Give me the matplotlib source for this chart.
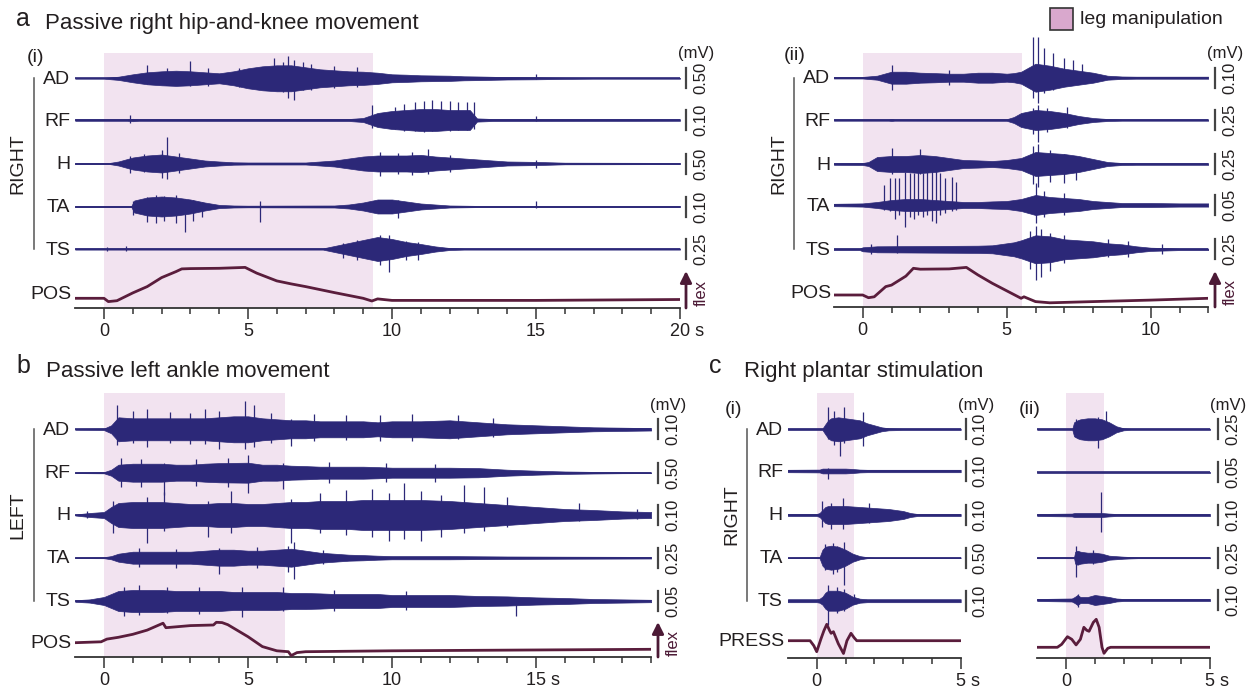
import matplotlib
matplotlib.use("Agg")
import matplotlib.pyplot as plt
import matplotlib.transforms as mtransforms
from matplotlib.patches import Rectangle
import numpy as np

W, H = 1253, 691
plt.rcParams["font.family"] = ["Liberation Sans", "DejaVu Sans"]

EMG = "#2c2878"
POSC = "#5a1d3c"
FLEX = "#4c1a36"
SHADE = "#f2e3f0"
TXT = "#231f20"
AXC = "#333333"

CHANNELS = ["AD", "RF", "H", "TA", "TS"]

# EMG envelopes: (time s, half-amplitude in units of the channel's scale bar)
# spikes: (time s, up, down) in the same units
# ---------------- a(i) passive right hip-and-knee, 20 s ----------------
A1_SCALE = ["0.50", "0.10", "0.50", "0.10", "0.25"]
A1_MANIP = (0.0, 9.33)
A1_AD = [(-1, .02), (0, .02), (0.5, .08), (1, .2), (1.5, .3), (2, .35), (2.5, .38), (3, .35),
         (3.5, .3), (4, .25), (4.5, .35), (5, .5), (5.5, .6), (6, .65), (6.5, .65), (7, .55),
         (7.5, .45), (8, .4), (8.5, .35), (9, .33), (9.5, .28), (10, .2), (10.5, .18), (11, .15),
         (12, .13), (12.5, .1), (13, .09), (14, .06), (15, .05), (16, .03), (17, .02), (20, .02)]
A1_AD_SP = [(1.5, .65, .3), (2.2, .5, .35), (3.0, .85, .4), (3.6, .5, .4), (4.7, .5, .45),
            (5.9, 1.0, .5), (6.2, .8, .7), (6.4, 1.1, 1.0), (6.6, .9, 1.1), (6.9, .8, .6),
            (7.2, .7, .6), (8.0, .6, .5), (8.8, .55, .45), (15.0, .2, .05)]
A1_RF = [(-1, .04), (0.8, .04), (1, .06), (1.2, .04), (8.5, .05), (9, .1), (9.5, .35), (10, .45),
         (10.5, .5), (11, .55), (11.5, .55), (12, .5), (12.7, .5), (12.95, .08), (13.5, .05), (20, .04)]
A1_RF_SP = [(0.9, .25, .15), (9.3, .75, .4), (10.1, .65, .45), (10.4, .8, .55), (10.8, .9, .55),
            (11.1, .95, .6), (11.4, 1.0, .55), (11.7, .95, .5), (12.0, .95, .55), (12.3, .9, .5),
            (12.6, .9, .5), (12.85, .9, .45), (15.0, .2, .05)]
A1_H = [(-1, .03), (0.2, .03), (0.5, .1), (1, .3), (1.5, .4), (2, .45), (2.5, .35), (3, .25),
        (3.5, .15), (4, .1), (4.5, .06), (5, .05), (7, .05), (7.5, .1), (8, .15), (8.5, .25),
        (9, .35), (9.5, .4), (10.5, .4), (11, .43), (11.5, .35), (12, .3), (12.5, .25), (13, .2),
        (13.5, .15), (14, .1), (15, .08), (16, .04), (20, .03)]
A1_H_SP = [(0.9, .4, .45), (1.4, .5, .4), (2.0, .7, .7), (2.2, 1.35, .75), (2.6, .55, .45),
           (9.6, .6, .6), (10.2, .55, .5), (10.7, .6, .55), (11.25, .75, .5), (12.0, .45, .4),
           (15.0, .2, .2)]
A1_TA = [(-1, .03), (0.95, .03), (1.05, .3), (1.5, .45), (2, .5), (2.5, .45), (3, .35), (3.5, .2),
         (4, .08), (4.5, .05), (5, .04), (8, .05), (8.5, .1), (9, .2), (9.5, .35), (10, .35),
         (10.5, .25), (11, .15), (11.5, .1), (12, .05), (13, .03), (20, .03)]
A1_TA_SP = [(1.0, .3, .4), (1.5, .5, .75), (1.8, .6, .8), (2.1, .55, .7), (2.5, .6, .8),
            (2.8, .4, 1.25), (3.1, .35, .7), (3.4, .25, .5), (5.4, .3, .75), (10.2, .35, .55),
            (15.0, .3, .05)]
A1_TS = [(-1, .03), (7.6, .03), (8, .15), (8.5, .3), (9, .45), (9.5, .6), (10, .5), (10.5, .35),
         (11, .25), (11.5, .13), (12, .05), (12.5, .03), (20, .03)]
A1_TS_SP = [(0.1, .1, .1), (0.75, .15, .1), (8.3, .3, .45), (8.8, .45, .55), (9.6, .7, .8),
            (9.9, .7, 1.15), (10.5, .4, .55), (10.9, .35, .55)]
A1_POS = [(-1, 0), (0, 0), (0.15, -.11), (0.45, -.08), (1, .18), (1.5, .39), (2, .69), (2.5, .89),
          (2.7, .98), (3, .99), (4, 1.0), (4.9, 1.03), (5.3, .84), (6, .58), (6.5, .48), (7, .39),
          (8, .19), (9, 0), (9.3, -.09), (9.5, -.02), (10, -.07), (15, -.07), (20, -.04)]

# ---------------- a(ii) ----------------
A2_SCALE = ["0.10", "0.25", "0.25", "0.05", "0.25"]
A2_MANIP = (0.0, 5.53)
A2_AD = [(-1, .04), (0, .04), (0.5, .1), (1, .3), (1.5, .3), (2, .25), (2.5, .23), (3, .2),
         (3.5, .2), (4, .25), (4.5, .25), (5, .2), (5.25, .23), (5.5, .3), (6, .7), (6.5, .6),
         (7, .45), (7.5, .35), (8, .25), (8.5, .1), (9, .06), (9.5, .05), (12, .05)]
A2_AD_SP = [(1.0, .65, .6), (3.0, .4, .35), (5.9, 2.05, 1.0), (6.1, 2.05, 1.25), (6.3, 1.5, .75),
            (6.6, 1.25, .6), (7.0, 1.0, .4), (7.3, .9, .3), (7.6, .7, .25)]
A2_RF = [(-1, .035), (0.9, .035), (1.0, .05), (1.1, .035), (5, .04), (5.25, .15), (5.5, .35),
         (6, .5), (6.5, .45), (7, .35), (7.5, .2), (8, .1), (8.5, .05), (9, .035), (12, .035)]
A2_RF_SP = [(5.9, .6, .7), (6.1, .75, 1.1), (6.4, .6, .6), (7.1, .65, .4)]
A2_H = [(-1, .04), (0, .05), (0.2, .1), (0.5, .35), (1, .4), (1.5, .4), (2, .45), (2.5, .4),
        (3, .3), (3.5, .2), (4, .18), (4.5, .15), (5, .2), (5.25, .25), (5.5, .3), (6, .6),
        (6.5, .55), (7, .5), (7.5, .4), (8, .25), (8.5, .1), (9, .05), (9.5, .04), (12, .04)]
A2_H_SP = [(1.0, .8, .5), (2.0, .75, .5), (5.9, .9, 1.0), (6.1, 1.0, 1.15), (6.5, .7, .9),
           (7.0, .5, .95), (7.4, .4, .8)]
A2_TA = [(-1, .06), (0, .08), (0.5, .15), (1, .25), (1.5, .3), (2, .3), (2.5, .25), (3, .2),
         (3.5, .15), (4, .15), (4.5, .18), (5, .2), (5.25, .25), (5.5, .3), (6, .5), (6.5, .4),
         (7, .35), (7.5, .3), (8, .2), (8.5, .15), (9, .1), (10, .1), (11, .08), (12, .08)]
A2_TA_SP = [(0.74, 1.0, .25), (0.95, 1.35, .3), (1.12, 1.35, .7), (1.26, 1.35, .5),
            (1.46, 1.65, 1.1), (1.64, 1.6, .6), (1.78, 1.6, .7), (1.93, 1.65, .5), (2.08, 1.6, .6),
            (2.22, 1.65, .5), (2.39, 1.75, .8), (2.54, 1.75, .9), (2.68, 1.6, .5), (2.85, 1.35, .4),
            (3.09, 1.4, .3), (3.24, 1.15, .25), (6.0, 1.1, .9), (6.3, .7, .6), (7.0, .6, .5)]
A2_TS = [(-1, .04), (-0.1, .04), (0, .1), (0.5, .15), (4, .18), (4.5, .2), (5, .3), (5.25, .35),
         (5.5, .45), (6, .7), (6.5, .65), (7, .5), (7.5, .45), (8, .4), (8.5, .3), (9, .25),
         (9.5, .15), (10, .08), (11, .04), (12, .04)]
A2_TS_SP = [(0.3, .25, .25), (1.2, .7, .2), (5.8, .9, 1.0), (6.0, 1.15, 1.55), (6.2, 1.0, 1.4),
            (6.5, .8, 1.1), (7.0, .7, .7), (8.5, .5, .4), (9.2, .4, .4), (10.4, .25, .25)]
A2_POS = [(-1, 0), (0, 0), (0.2, -.09), (0.4, -.06), (0.8, .28), (1, .33), (1.5, .63), (1.76, .89),
          (2, .86), (3, .87), (3.6, .92), (4, .67), (4.5, .39), (5, .14), (5.5, -.11), (5.6, -.06),
          (6, -.22), (6.5, -.26), (8, -.22), (10, -.17), (12, -.11)]

# ---------------- b passive left ankle ----------------
B_SCALE = ["0.10", "0.50", "0.10", "0.25", "0.05"]
B_MANIP = (0.0, 6.28)
B_AD = [(-1, .025), (0, .04), (0.25, .2), (0.5, .6), (1, .55), (3.5, .55), (4, .6), (4.5, .65),
        (5, .65), (5.5, .55), (6, .5), (6.5, .45), (7, .45), (7.5, .4), (9, .4), (9.5, .35),
        (10, .4), (11, .4), (12, .45), (13, .35), (14, .25), (15, .2), (16, .15), (17, .1),
        (18, .08), (19, .06)]
B_AD_SP = [(0.45, 1.2, .8), (1.0, .9, .7), (1.5, 1.0, .9), (2.3, .85, .7), (3.0, .8, .75),
           (3.5, 1.0, .75), (4.0, .9, 1.0), (4.9, 1.4, 1.0), (5.2, 1.2, .9), (5.8, .8, .7),
           (6.5, .5, .85), (7.3, .75, .6), (8.4, .7, .55), (9.6, .7, .6), (10.7, .75, .6),
           (12.3, .7, .5), (13.5, .55, .4)]
B_RF = [(-1, .02), (0, .03), (0.25, .15), (0.5, .4), (1, .45), (2, .45), (2.5, .4), (3, .4),
        (3.5, .45), (4, .48), (5, .5), (5.5, .4), (6, .4), (6.5, .35), (7, .33), (7.5, .3), (9, .3),
        (9.5, .28), (10, .25), (12, .25), (13, .23), (14, .15), (15, .1), (16, .06), (17, .04),
        (18, .025), (19, .02)]
B_RF_SP = [(0.6, .75, .7), (1.3, .7, .7), (2.07, .5, 1.1), (3.2, .7, .65), (4.3, .75, .7),
           (5.0, .9, 1.0), (6.2, .5, .8), (7.8, .55, .5), (9.8, .5, .45), (11.5, .45, .45)]
B_H = [(-1, .025), (-0.5, .1), (0, .15), (0.25, .4), (0.5, .6), (1, .65), (2, .65), (2.5, .6),
       (3, .55), (3.5, .55), (4, .6), (4.5, .6), (5, .55), (5.5, .55), (6, .6), (6.5, .65), (7, .65),
       (7.5, .7), (8.5, .7), (9, .75), (11, .75), (12, .7), (13, .6), (14, .5), (15, .4), (16, .3),
       (17, .25), (18, .18), (19, .15)]
B_H_SP = [(-0.6, .2, .15), (0.3, .7, .9), (1.5, .9, 1.4), (2.1, 1.15, .8), (3.6, .7, 1.1),
          (4.4, 1.2, .9), (6.5, .8, 1.4), (7.5, 1.1, .9), (8.4, 1.25, 1.0), (9.3, 1.3, 1.1),
          (9.9, 1.1, 1.3), (10.4, 1.6, 1.2), (11.0, 1.2, 1.3), (11.7, 1.0, 1.1), (12.5, 1.5, .9),
          (13.2, 1.4, .8), (14.0, .9, .6), (16.5, .6, .3), (18.5, .3, .2)]
B_TA = [(-1, .02), (0, .025), (0.25, .08), (0.5, .2), (1, .3), (3, .3), (3.5, .35), (4, .4),
        (4.5, .4), (5, .35), (5.5, .35), (6, .4), (6.5, .45), (7, .35), (7.5, .25), (8, .2),
        (8.5, .15), (9, .13), (9.5, .1), (10, .08), (12, .08), (14, .06), (16, .05), (19, .04)]
B_TA_SP = [(1.2, .5, .45), (2.5, .45, .5), (4.0, .5, .8), (5.3, .55, .5), (6.4, .6, .7),
           (6.6, .8, 1.05), (7.6, .4, .3)]
B_TS = [(-1, .04), (-0.5, .08), (0, .2), (0.25, .35), (0.5, .5), (1, .55), (2, .55), (2.5, .5),
        (4, .5), (4.5, .45), (6, .45), (6.5, .4), (7, .4), (7.5, .38), (8, .35), (9.5, .35),
        (10, .3), (12, .3), (13, .25), (14, .23), (15, .18), (16, .15), (17, .1), (18, .08),
        (19, .06)]
B_TS_SP = [(0.7, .7, .75), (1.2, .8, .7), (2.2, .7, .6), (3.3, .7, .65), (4.8, .7, .8),
           (6.2, .7, .5), (8.0, .55, .5), (10.5, .5, .45), (14.3, .1, .75)]
B_POS = [(-1, 0), (-0.1, .03), (0.1, .12), (0.5, .18), (1, .28), (1.5, .42), (2.05, .65),
         (2.15, .5), (3, .57), (3.8, .59), (3.9, .68), (4.1, .67), (4.3, .6), (5, .2), (5.5, -.13),
         (6, -.27), (6.4, -.3), (6.5, -.43), (6.7, -.33), (7, -.3), (9, -.28), (10, -.27),
         (19, -.22)]

# ---------------- c(i) right plantar stimulation ----------------
C1_SCALE = ["0.10", "0.10", "0.10", "0.50", "0.10"]
C1_MANIP = (0.0, 1.31)
C1_AD = [(-1, .035), (0.2, .035), (0.3, .25), (0.4, .45), (0.5, .55), (0.75, .6), (1, .55),
         (1.25, .5), (1.5, .45), (1.75, .3), (2, .2), (2.25, .1), (2.5, .05), (3, .035), (5, .035)]
C1_AD_SP = [(0.4, 1.1, .5), (0.6, .9, .8), (0.8, .5, 1.35), (0.95, 1.1, .7), (1.6, .85, .85)]
C1_RF = [(-1, .06), (0.1, .07), (0.2, .12), (1, .12), (1.25, .1), (1.5, .07), (1.75, .06), (5, .06)]
C1_RF_SP = [(0.4, .15, .4)]
C1_H = [(-1, .05), (0, .05), (0.1, .1), (0.2, .25), (0.3, .4), (0.4, .45), (1, .45), (1.5, .4),
        (2, .35), (2.5, .3), (3, .2), (3.25, .1), (3.5, .05), (5, .05)]
C1_H_SP = [(0.2, .7, .6), (0.5, .6, .7), (0.9, .85, .7), (1.8, .6, .4)]
C1_TA = [(-1, .015), (0.1, .025), (0.2, .4), (0.3, .55), (0.5, .6), (0.75, .55), (1, .4),
         (1.25, .2), (1.5, .08), (1.75, .025), (2, .015), (5, .015)]
C1_TA_SP = [(0.3, .7, .6), (0.55, .75, .8), (0.7, .6, .7), (0.95, .8, 1.35)]
C1_TS = [(-1, .075), (0, .075), (0.1, .1), (0.2, .2), (0.3, .4), (0.4, .5), (0.75, .5), (1, .4),
         (1.25, .2), (1.5, .1), (1.75, .075), (5, .075)]
C1_TS_SP = [(0.4, .8, 1.2), (0.7, .7, .6), (0.95, .6, .5), (1.3, .35, .15)]
C1_PRESS = [(-1, 0), (-0.23, 0), (-0.1, -.25), (0, -.55), (0.15, .1), (0.25, .5), (0.35, .82),
            (0.45, .5), (0.5, .37), (0.58, .45), (0.75, -.15), (0.93, -.64), (1.05, 0),
            (1.19, .37), (1.3, .15), (1.39, 0), (5, 0)]

# ---------------- c(ii) ----------------
C2_SCALE = ["0.25", "0.05", "0.10", "0.25", "0.10"]
C2_MANIP = (0.0, 1.33)
C2_AD = [(-1, .03), (0.22, .03), (0.28, .35), (0.4, .45), (0.5, .5), (0.75, .55), (1, .55),
         (1.25, .5), (1.5, .35), (1.75, .15), (2, .05), (2.25, .03), (5, .03)]
C2_AD_SP = [(0.35, .5, .4), (1.1, .6, .95), (1.4, .9, .3)]
C2_RF = [(-1, .035), (5, .035)]
C2_RF_SP = []
C2_H = [(-1, .05), (0.2, .07), (0.3, .1), (1.25, .1), (1.5, .07), (1.75, .05), (5, .05)]
C2_H_SP = [(1.2, 1.15, .85)]
C2_TA = [(-1, .025), (0.28, .025), (0.32, .3), (0.4, .35), (0.5, .3), (0.75, .25), (1, .25),
         (1.25, .2), (1.5, .1), (1.75, .075), (2, .05), (2.25, .035), (2.5, .025), (5, .025)]
C2_TA_SP = [(0.33, .6, .95), (0.95, .4, .3)]
C2_TS = [(-1, .05), (0.2, .075), (0.3, .15), (0.4, .25), (0.5, .15), (0.75, .15), (1, .25),
         (1.25, .2), (1.5, .15), (1.75, .075), (2, .05), (5, .05)]
C2_TS_SP = [(0.4, .3, .35)]
C2_PRESS = [(-1, 0), (-0.3, 0), (-0.15, .15), (0.05, .53), (0.2, .4), (0.35, .12), (0.5, .4),
            (0.62, 1.0), (0.72, .85), (0.8, .8), (0.95, 1.25), (1.05, 1.4), (1.15, 1.0),
            (1.25, 0), (1.32, -.3), (1.45, -.05), (1.55, 0), (5, 0)]

BAR = 20.0  # scale-bar height (px)

fig = plt.figure(figsize=(W / 100, H / 100), dpi=100)


def panel(x0, t0, t1, ytop, ybot, pps=28.8):
    ax = fig.add_axes([(x0 + pps * t0) / W, 1 - ybot / H, pps * (t1 - t0) / W, (ybot - ytop) / H])
    ax.set_xlim(t0, t1)
    ax.set_ylim(-ybot, -ytop)
    ax.patch.set_visible(False)
    for s in ("top", "right", "left"):
        ax.spines[s].set_visible(False)
    ax.spines["bottom"].set_color(AXC)
    ax.spines["bottom"].set_linewidth(1.3)
    ax.set_yticks([])
    return ax


def xaxis(ax, majors, labels, t1):
    ax.set_xticks(majors)
    ax.set_xticklabels(labels)
    ax.set_xticks(np.arange(1, int(t1) + 1), minor=True)
    ax.tick_params(which="major", direction="out", length=8, width=1.1, color=AXC, pad=3,
                   labelsize=13, labelcolor=TXT)
    ax.tick_params(which="minor", direction="out", length=4.5, width=1.1, color=AXC)
    last = ax.get_xticklabels()[-1]
    if last.get_text().endswith(" s"):
        last.set_transform(last.get_transform()
                           + mtransforms.ScaledTranslation(0.07, 0, fig.dpi_scale_trans))


def emg(ax, env, spikes, base):
    t, a = np.array(env, dtype=float).T
    ax.fill_between(t, -base - a * BAR, -base + a * BAR, color=EMG, ec=EMG, lw=0.5, zorder=2)
    ax.plot([t[0], t[-1]], [-base, -base], color=EMG, lw=1.2, zorder=2)
    if spikes:
        ts, up, dn = np.array(spikes, dtype=float).T
        ax.vlines(ts, -base - dn * BAR, -base + up * BAR, color=EMG, lw=0.9, zorder=2)


def pos(ax, trace, base, scale):
    t, v = np.array(trace, dtype=float).T
    ax.plot(t, -base + v * scale, color=POSC, lw=2.0, zorder=3, solid_capstyle="round")


def shade(ax, manip, top, bottom):
    ax.fill_between(list(manip), -bottom, -top, color=SHADE, lw=0, zorder=0)


ov = fig.add_axes([0, 0, 1, 1], zorder=5)
ov.set_xlim(0, W)
ov.set_ylim(H, 0)
ov.axis("off")


def txt(x, y, s, size=14, ha="center", va="center", color=TXT, **kw):
    ov.text(x, y, s, fontsize=size, ha=ha, va=va, color=color, **kw)


def deco(rows, bar_x, val_x, scales, mv_y, lab_x=None, pos_y=None, pos_lab=None,
         side=None, side_x=None, line_x=None, flex=None):
    if lab_x is not None:
        for name, yb in zip(CHANNELS, rows):
            txt(lab_x, yb + 1, name, ha="right")
        txt(lab_x + 1, pos_y, pos_lab, ha="right")
    if side:
        txt(side_x, (rows[0] + rows[-1]) / 2, side, rotation=90)
        ov.plot([line_x, line_x], [rows[0], rows[-1]], color="#555555", lw=1.1)
    for sc, yb in zip(scales, rows):
        ov.plot([bar_x, bar_x], [yb - BAR / 2, yb + BAR / 2], color="#444444", lw=1.6)
        txt(val_x, yb, sc, size=12, rotation=90)
    txt(bar_x + 10, mv_y, "(mV)", size=12)
    if flex:
        ybot, ytop = flex
        ov.annotate("", xy=(bar_x, ytop), xytext=(bar_x, ybot),
                    arrowprops=dict(arrowstyle="-|>", color=FLEX, lw=2.0, mutation_scale=17,
                                    shrinkA=0, shrinkB=0))
        txt(val_x, (ybot + ytop) / 2 + 3, "flex", size=12, color=FLEX, rotation=90)


# ---- a(i)
rows = [78.3, 120, 163.5, 206.5, 249]
ax = panel(104, -1, 20, 20, 307.5)
shade(ax, A1_MANIP, 53, 307.5)
for env, sp, yb in zip([A1_AD, A1_RF, A1_H, A1_TA, A1_TS],
                       [A1_AD_SP, A1_RF_SP, A1_H_SP, A1_TA_SP, A1_TS_SP], rows):
    emg(ax, env, sp, yb)
pos(ax, A1_POS, 298.3, 30)
xaxis(ax, [0, 5, 10, 15, 20], ["0", "5", "10", "15", "20 s"], 20)
deco(rows, 686, 701, A1_SCALE, 53, lab_x=70, pos_y=294, pos_lab="POS",
     side="RIGHT", side_x=18, line_x=33.5, flex=(308, 271))

# ---- a(ii)
rows = [77.7, 120, 164, 205, 249.3]
ax = panel(862.7, -1, 12, 20, 306.5)
shade(ax, A2_MANIP, 53, 306.5)
for env, sp, yb in zip([A2_AD, A2_RF, A2_H, A2_TA, A2_TS],
                       [A2_AD_SP, A2_RF_SP, A2_H_SP, A2_TA_SP, A2_TS_SP], rows):
    emg(ax, env, sp, yb)
pos(ax, A2_POS, 295, 30)
xaxis(ax, [0, 5, 10], ["0", "5", "10"], 12)
deco(rows, 1215, 1230, A2_SCALE, 53, lab_x=830, pos_y=293, pos_lab="POS",
     side="RIGHT", side_x=779, line_x=793.5, flex=(307, 271))

# ---- b
rows = [429.3, 472.7, 515, 557.7, 601]
ax = panel(104, -1, 19, 370, 657)
shade(ax, B_MANIP, 393, 657)
for env, sp, yb in zip([B_AD, B_RF, B_H, B_TA, B_TS],
                       [B_AD_SP, B_RF_SP, B_H_SP, B_TA_SP, B_TS_SP], rows):
    emg(ax, env, sp, yb)
pos(ax, B_POS, 642.7, 30)
xaxis(ax, [0, 5, 10, 15], ["0", "5", "10", "15 s"], 19)
deco(rows, 658, 673, B_SCALE, 405, lab_x=70, pos_y=643, pos_lab="POS",
     side="LEFT", side_x=18, line_x=34, flex=(657, 622))

# ---- c(i)
rows = [429.3, 471, 515, 557.7, 600.7]
ax = panel(816.7, -1, 5, 370, 658)
shade(ax, C1_MANIP, 393, 658)
for env, sp, yb in zip([C1_AD, C1_RF, C1_H, C1_TA, C1_TS],
                       [C1_AD_SP, C1_RF_SP, C1_H_SP, C1_TA_SP, C1_TS_SP], rows):
    emg(ax, env, sp, yb)
pos(ax, C1_PRESS, 640.7, 20)
xaxis(ax, [0, 5], ["0", "5 s"], 5)
deco(rows, 966, 980, C1_SCALE, 405, lab_x=783, pos_y=642, pos_lab="PRESS",
     side="RIGHT", side_x=731.5, line_x=747)

# ---- c(ii)
rows = [429.3, 472.3, 515, 557.7, 600]
ax = panel(1066, -1, 5, 370, 658)
shade(ax, C2_MANIP, 393, 658)
for env, sp, yb in zip([C2_AD, C2_RF, C2_H, C2_TA, C2_TS],
                       [C2_AD_SP, C2_RF_SP, C2_H_SP, C2_TA_SP, C2_TS_SP], rows):
    emg(ax, env, sp, yb)
pos(ax, C2_PRESS, 647.3, 20)
xaxis(ax, [0, 5], ["0", "5 s"], 5)
deco(rows, 1218, 1233, C2_SCALE, 405)

# ---- headings
txt(16, 26, "a", size=18, ha="left", va="baseline")
txt(45, 29, "Passive right hip-and-knee movement", size=16, ha="left", va="baseline")
txt(16, 373, "b", size=18, ha="left", va="baseline")
txt(46, 377, "Passive left ankle movement", size=16, ha="left", va="baseline")
txt(709, 373, "c", size=18, ha="left", va="baseline")
txt(744, 377, "Right plantar stimulation", size=16, ha="left", va="baseline")
txt(35, 57, "(i)", size=14)
txt(795, 55, "(ii)", size=14)
txt(734, 409, "(i)", size=14)
txt(1030, 409, "(ii)", size=14)

ov.add_patch(Rectangle((1050, 8), 23, 22, fc="#d9a8cd", ec="#333333", lw=1.2))
txt(1080, 19, "leg manipulation", size=14, ha="left")

fig.savefig("out.png", dpi=100)
